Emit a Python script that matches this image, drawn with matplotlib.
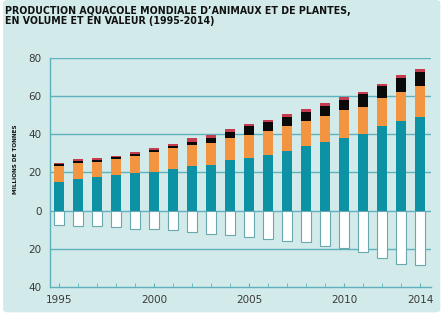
import numpy as np
import matplotlib
matplotlib.use("Agg")
import matplotlib.pyplot as plt
from matplotlib.patches import FancyBboxPatch

# production aquacole, millions de tonnes
annees = list(range(1995, 2015))
poissons = [15.1, 16.5, 17.4, 18.6, 19.7, 20.5, 21.9, 23.2, 24.0, 26.5,
            27.7, 29.3, 31.4, 33.9, 36.0, 38.1, 40.2, 44.2, 47.1, 49.1]
mollusques = [8.4, 8.5, 8.2, 8.3, 9.1, 10.0, 10.7, 11.0, 11.4, 11.5,
              11.9, 12.3, 12.9, 13.3, 13.5, 14.4, 14.3, 14.7, 15.2, 16.3]
crustaces = [1.0, 1.0, 1.1, 1.0, 0.9, 1.1, 1.1, 1.9, 2.6, 3.0,
             4.9, 4.8, 4.9, 4.7, 5.4, 5.6, 6.4, 6.5, 7.2, 7.5]
autres = [0.5, 0.9, 0.9, 0.9, 1.2, 1.0, 1.2, 1.8, 1.6, 1.6,
          0.9, 1.3, 1.3, 1.3, 1.6, 1.2, 1.3, 1.2, 1.6, 1.1]
plantes = [7.3, 8.0, 7.9, 8.7, 9.5, 9.8, 10.3, 11.2, 12.1, 13.0,
           13.9, 15.0, 15.7, 16.6, 18.4, 19.8, 21.4, 24.8, 28.0, 28.3]

fond = "#d2eaea"
bleu = "#0d92a5"
orange = "#f39540"
rouge = "#c43c4e"
grille = "#5fb2bd"
texte = "#3a3a3a"

fig = plt.figure(figsize=(4.47, 3.22), dpi=100, facecolor="white")
fig.patches.append(FancyBboxPatch((0.007, 0.03), 0.978, 0.97,
                                  boxstyle="round,pad=0,rounding_size=0.01",
                                  transform=fig.transFigure, facecolor=fond,
                                  edgecolor="none", zorder=-10))

ax = fig.add_axes([0.1119, 0.1087, 0.852, 0.7112])
ax.set_facecolor("none")

x = np.array(annees)
w = 0.52
b1 = np.array(poissons)
b2 = b1 + np.array(mollusques)
b3 = b2 + np.array(crustaces)
ax.bar(x, poissons, w, color=bleu, zorder=3)
ax.bar(x, mollusques, w, bottom=b1, color=orange, zorder=3)
ax.bar(x, crustaces, w, bottom=b2, color="#0a0a0a", zorder=3)
ax.bar(x, autres, w, bottom=b3, color=rouge, zorder=3)
ax.bar(x, -np.array(plantes), w, color="white", edgecolor="#6aa8b0",
       linewidth=0.8, zorder=3)

ax.set_xlim(1994.52, 2014.55)
ax.set_ylim(-40, 80)
for v in [80, 60, 40, 20, 0, -20]:
    ax.axhline(v, color=grille, linewidth=1.0, zorder=1)

for s in ["top", "right"]:
    ax.spines[s].set_visible(False)
ax.spines["left"].set_color(grille)
ax.spines["bottom"].set_color(grille)
ax.spines["left"].set_linewidth(1.0)
ax.spines["bottom"].set_linewidth(1.0)

ax.set_yticks([80, 60, 40, 20, 0, -20, -40])
ax.set_yticklabels(["80", "60", "40", "20", "0", "20", "40"])
ax.tick_params(axis="y", length=0, pad=6, labelsize=7.5, labelcolor=texte)
ax.set_xticks(annees, minor=True)
ax.set_xticks([1995, 2000, 2005, 2010, 2014])
ax.tick_params(axis="x", which="both", direction="in", length=3,
               color=grille, labelsize=7.5, labelcolor=texte, pad=6)

fig.text(0.034, 0.505, "MILLIONS DE TONNES", rotation=90, ha="center",
         va="center", fontsize=4.6, fontweight="heavy", color="#111111",
         family="DejaVu Sans", fontstretch="condensed")

fig.text(0.012, 0.982, "PRODUCTION AQUACOLE MONDIALE D\u2019ANIMAUX ET DE PLANTES,\n"
         "EN VOLUME ET EN VALEUR (1995-2014)", ha="left", va="top",
         fontsize=7.6, fontweight="heavy", color="#111111",
         family="DejaVu Sans", fontstretch="condensed", linespacing=1.05)

fig.savefig("out.png", dpi=100, facecolor="white")
